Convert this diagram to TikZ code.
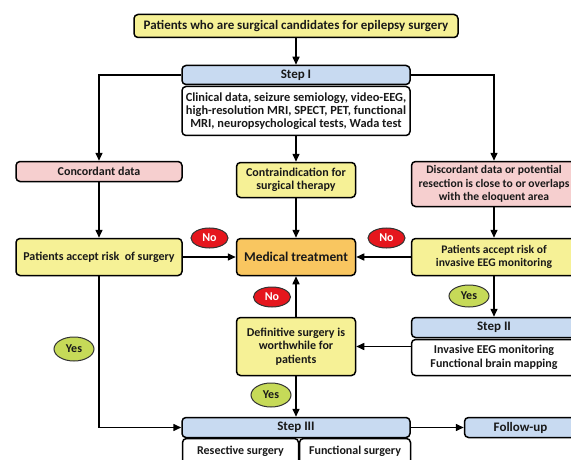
\documentclass[tikz,border=0pt]{standalone}
\usepackage{fontspec}
\setmainfont{Carlito}
\usetikzlibrary{arrows.meta,shapes.geometric}
\definecolor{cyellow}{HTML}{F6F196}
\definecolor{cpink}{HTML}{F6CFCF}
\definecolor{cblue}{HTML}{C8DAF1}
\definecolor{corange}{HTML}{F9C660}
\definecolor{cred}{HTML}{E5161D}
\definecolor{cgreen}{HTML}{C6DA58}
\begin{document}
\begin{tikzpicture}[x=1pt,y=-1pt,
  box/.style={draw=black, line width=1.5pt, rounded corners=4pt, align=center, inner sep=0pt,
    font=\bfseries\fontsize{12}{13.5}\selectfont, text=black!90},
  yel/.style={box, fill=cyellow},
  pnk/.style={box, fill=cpink},
  blu/.style={box, fill=cblue, font=\bfseries\fontsize{13}{15}\selectfont},
  org/.style={box, fill=corange},
  wht/.style={box, fill=white},
  bub/.style={ellipse, draw=black!80, line width=1pt, inner sep=0pt,
    font=\bfseries\fontsize{12}{14}\selectfont},
  nob/.style={bub, fill=cred, text=white, minimum width=37pt, minimum height=20pt},
  yesb/.style={bub, fill=cgreen, text=black!90, minimum width=40pt, minimum height=22pt},
  arr/.style={line width=1.5pt, -{Triangle[length=8pt,width=7pt]}}
]
\useasboundingbox (0,0) rectangle (571,460);
\fill[white] (0,0) rectangle (571,460);

\node[yel, minimum width=324pt, minimum height=23pt, font=\bfseries\fontsize{13}{15}\selectfont] (top) at (296,26)
  {Patients who are surgical candidates for epilepsy surgery};
\node[blu, minimum width=228pt, minimum height=19pt] (s1) at (296,75) {Step I};
\node[wht, minimum width=228pt, minimum height=49pt, font=\bfseries\fontsize{12.4}{13.2}\selectfont] (d1) at (296,111)
  {Clinical data, seizure semiology, video-EEG,\\high-resolution MRI, SPECT, PET, functional\\MRI, neuropsychological tests, Wada test};

\node[pnk, minimum width=166pt, minimum height=20pt] (conc) at (99,171.5) {Concordant data};
\node[yel, minimum width=119pt, minimum height=35pt] (contra) at (296,180) {Contraindication for\\surgical therapy};
\node[pnk, minimum width=165pt, minimum height=45pt, font=\bfseries\fontsize{11.6}{13.2}\selectfont] (disc) at (494,184)
  {Discordant data or potential\\resection is close to or overlaps\\with the eloquent area};

\node[yel, minimum width=166pt, minimum height=37pt] (pas) at (99,257) {Patients accept risk~ of surgery};
\node[org, minimum width=119pt, minimum height=37pt, font=\bfseries\fontsize{13.4}{15}\selectfont] (med) at (296,257) {Medical treatment};
\node[yel, minimum width=165pt, minimum height=37pt, font=\bfseries\fontsize{11.6}{13.5}\selectfont] (pai) at (494,257) {Patients accept risk of\\invasive EEG monitoring};

\node[nob] (no1) at (209.5,238) {No};
\node[nob] (no2) at (386.5,238) {No};
\node[nob] (no3) at (272,297) {No};
\node[yesb] (yes1) at (469,296) {Yes};

\node[blu, minimum width=165pt, minimum height=20pt] (s2) at (494,327.5) {Step II};
\node[wht, minimum width=165pt, minimum height=36pt] (d2) at (494,357.5) {Invasive EEG monitoring\\Functional brain mapping};
\node[yel, minimum width=119pt, minimum height=58pt] (def) at (296,346.5) {Definitive surgery is\\worthwhile for\\patients};

\node[yesb, minimum height=24pt] (yes2) at (74,349) {Yes};
\node[yesb, minimum height=24pt] (yes3) at (271,395) {Yes};

\node[blu, minimum width=228pt, minimum height=20pt] (s3) at (296,427.5) {Step III};
\node[wht, minimum width=116pt, minimum height=26pt] (res) at (240.5,451.5) {Resective surgery};
\node[wht, minimum width=111pt, minimum height=26pt] (fun) at (355,451.5) {Functional surgery};
\node[blu, minimum width=112pt, minimum height=20pt] (fol) at (520.5,427.5) {Follow-up};

\draw[arr] (top) -- (s1);
\draw[arr] (s1.west) -| (conc.north);
\draw[arr] (s1.east) -| (disc.north);
\draw[arr] (d1) -- (contra);
\draw[arr] (conc) -- (pas);
\draw[arr] (contra) -- (med);
\draw[arr] (disc) -- (pai);
\draw[arr] (pas) -- (med);
\draw[arr] (pai) -- (med);
\draw[arr] (def) -- (med);
\draw[arr] (pai) -- (s2);
\draw[arr] (d2.west |- def.east) -- (def.east);
\draw[arr] (def) -- (s3);
\draw[arr] (pas.south) |- (s3.west);
\draw[arr] (s3) -- (fol);
\end{tikzpicture}
\end{document}
